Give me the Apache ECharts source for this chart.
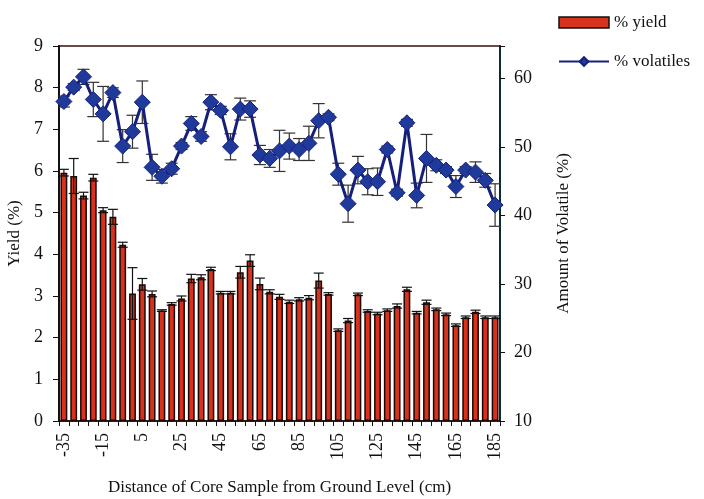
<!DOCTYPE html>
<html><head><meta charset="utf-8">
<script src="https://cdn.jsdelivr.net/npm/echarts@6/dist/echarts.min.js"></script>
<style>html,body{margin:0;padding:0;background:#fff}#c{width:704px;height:499px}</style>
</head><body><div id="c"></div>
<script>
var categories = [];
for (var d = -35; d <= 185; d += 5) categories.push(String(d));
var yieldValues = [5.96,5.88,5.41,5.84,5.06,4.90,4.23,3.06,3.28,3.05,2.65,2.81,2.94,3.42,3.45,3.65,3.08,3.08,3.57,3.85,3.29,3.10,2.98,2.86,2.92,2.96,3.37,3.05,2.18,2.41,3.04,2.64,2.58,2.66,2.76,3.16,2.60,2.85,2.68,2.56,2.30,2.49,2.62,2.49,2.49];
var yieldErrors = [0.08,0.42,0.08,0.08,0.06,0.18,0.06,0.62,0.14,0.07,0.02,0.03,0.06,0.10,0.06,0.04,0.03,0.03,0.14,0.14,0.14,0.05,0.06,0.04,0.04,0.05,0.18,0.03,0.03,0.05,0.03,0.03,0.03,0.03,0.05,0.05,0.03,0.05,0.03,0.03,0.03,0.03,0.04,0.03,0.03];
var volatileValues = [56.6,58.7,60.2,56.9,54.8,57.9,50.1,52.2,56.5,47.0,45.7,46.8,50.1,53.4,51.5,56.5,55.3,50.0,55.5,55.5,48.8,48.3,49.4,50.1,49.6,50.5,53.8,54.3,46.0,41.7,46.6,44.9,44.9,49.6,43.3,53.5,42.9,48.3,47.3,46.6,44.2,46.6,46.3,45.1,41.5];
var volatileErrors = [0.8,0.5,1.1,2.5,4.0,0.7,2.4,2.4,3.1,1.9,1.0,0.8,0.5,1.0,0.7,1.1,0.6,1.9,1.6,1.2,1.4,1.3,3.0,1.9,1.6,2.5,2.5,0.5,1.6,2.7,2.0,1.9,2.0,0.5,0.5,0.5,1.8,3.5,0.8,0.5,1.6,0.5,1.5,1.0,3.1];
var leftTicks = {min:0, max:9, interval:1};
var rightTicks = {min:10, max:64.7, interval:10};

function errData(vals, errs){
  return vals.map(function(v,i){ return [i, v - errs[i], v + errs[i]]; });
}
function errRender(color, cap){
  return function(params, api){
    var x = api.value(0);
    var lo = api.coord([x, api.value(1)]);
    var hi = api.coord([x, api.value(2)]);
    var st = {stroke: color, lineWidth: 1.2};
    return {type:'group', children:[
      {type:'line', shape:{x1:lo[0],y1:lo[1],x2:hi[0],y2:hi[1]}, style:st},
      {type:'line', shape:{x1:hi[0]-cap,y1:hi[1],x2:hi[0]+cap,y2:hi[1]}, style:st},
      {type:'line', shape:{x1:lo[0]-cap,y1:lo[1],x2:lo[0]+cap,y2:lo[1]}, style:st}
    ]};
  };
}
var serif = 'Liberation Serif';
var chart = echarts.init(document.getElementById('c'));
chart.setOption({
  animation:false,
  backgroundColor:'#fff',
  textStyle:{fontFamily:serif},
  grid:{left:59, right:204, top:46, bottom:78, containLabel:false, outerBoundsMode:'none',
        show:true, borderColor:'#3a1010', borderWidth:1.5, backgroundColor:'transparent'},
  legend:{
    orient:'vertical', left:553, top:9, itemGap:22, itemWidth:50, itemHeight:11,
    textStyle:{fontFamily:serif, fontSize:17, color:'#111'},
    data:[
      {name:'% yield', icon:'rect', itemStyle:{color:'#d8321c', borderColor:'#111', borderWidth:1.5}},
      {name:'% volatiles'}
    ]
  },
  xAxis:{
    type:'category', data:categories, boundaryGap:true,
    name:'Distance of Core Sample from Ground Level (cm)', nameLocation:'middle', nameGap:58,
    nameTextStyle:{fontFamily:serif, fontSize:17, color:'#111'},
    axisLine:{lineStyle:{color:'#111', width:1.5}},
    axisTick:{show:true, interval:0, length:5, lineStyle:{color:'#111'}},
    axisLabel:{interval:3, rotate:90, fontFamily:serif, fontSize:18, color:'#111', margin:12}
  },
  yAxis:[
    {type:'value', min:leftTicks.min, max:leftTicks.max, interval:leftTicks.interval,
     name:'Yield (%)', nameLocation:'middle', nameGap:26, nameRotate:90,
     nameTextStyle:{fontFamily:serif, fontSize:17, color:'#111'},
     axisLine:{show:true, lineStyle:{color:'#111', width:2}},
     axisTick:{show:true, length:6, lineStyle:{color:'#111'}},
     axisLabel:{fontFamily:serif, fontSize:18, color:'#111', margin:16},
     splitLine:{show:false}},
    {type:'value', min:rightTicks.min, max:rightTicks.max, interval:rightTicks.interval,
     name:'Amount of Volatile (%)', nameLocation:'middle', nameGap:55, nameRotate:90,
     nameTextStyle:{fontFamily:serif, fontSize:17, color:'#111', padding:[0,0,30,0]},
     axisLine:{show:true, lineStyle:{color:'#0d2a30', width:2}},
     axisTick:{show:true, length:5, inside:false, lineStyle:{color:'#111'}},
     axisLabel:{fontFamily:serif, fontSize:18, color:'#111', margin:14,
       formatter:function(v){ return (Math.abs(v % 10) < 1e-6) ? String(v) : ''; }},
     splitLine:{show:false}}
  ],
  series:[
    {name:'% yield', type:'bar', data:yieldValues, barWidth:'70%', yAxisIndex:0,
     itemStyle:{color:'#d8321c', borderColor:'#1a0806', borderWidth:1.5}, z:2},
    {name:'yieldErr', type:'custom', yAxisIndex:0, data:errData(yieldValues, yieldErrors),
     renderItem:errRender('#111', 5), encode:{x:0, y:[1,2]}, z:3, silent:true},
    {name:'volErr', type:'custom', yAxisIndex:1, data:errData(volatileValues, volatileErrors),
     renderItem:errRender('#333', 6), encode:{x:0, y:[1,2]}, z:4, silent:true},
    {name:'% volatiles', type:'line', yAxisIndex:1, data:volatileValues,
     symbol:'diamond', symbolSize:16, showAllSymbol:true,
     lineStyle:{color:'#16207a', width:3},
     itemStyle:{color:'#1f3a9a', borderColor:'#16207a', borderWidth:1}, z:5}
  ]
});
</script></body></html>
